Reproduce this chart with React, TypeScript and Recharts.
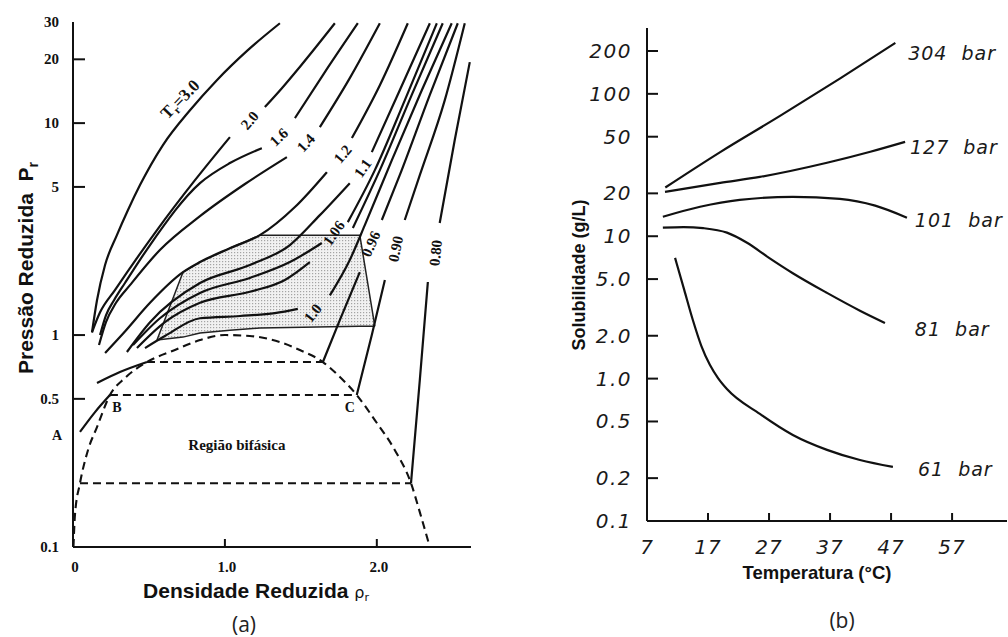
import React from "react"
import { ComposedChart, Line, Area, XAxis, YAxis, ReferenceDot } from "recharts"

type Pt = [number, number | null]

// ---------- (a) reduced pressure vs reduced density ----------
const rhoTicks = [0, 1, 2]
const rhoTickLabels = ["0", "1.0", "2.0"]
const prTicks = [0.1, 0.5, 1, 5, 10, 20, 30]
const prTickLabels = ["0.1", "0.5", "1", "5", "10", "20", "30"]

// isotherms, [rho_r, P_r]; a null marks the gap where the label sits
const isoT30: Pt[] = [[0.125, 1.03], [0.158, 1.46], [0.211, 2.14], [0.289, 2.96], [0.362, 3.89], [0.441, 5.1], [0.592, 7.88], [0.77, 11.5], [0.947, 15.95], [1.151, 22.1], [1.362, 29.6]]
const isoT20: Pt[] = [[0.125, 1.03], [0.178, 1.28], [0.276, 1.63], [0.553, 3.13], [0.803, 5.38], [1.033, 8.59], [1.15, null], [1.263, 11.9], [1.375, 14.6], [1.493, 18.4], [1.724, 29.6]]
const isoT16: Pt[] = [[0.178, 1.0], [0.217, 1.24], [0.27, 1.46], [0.342, 1.76], [0.507, 2.66], [0.836, 5.21], [1.033, 6.48], [1.243, 7.62], [1.35, null], [1.461, 10.56], [1.658, 17.4], [1.875, 29.6]]
const isoT14: Pt[] = [[0.171, 0.897], [0.217, 1.15], [0.283, 1.42], [0.375, 1.72], [0.572, 2.52], [0.836, 3.64], [1.132, 5.16], [1.408, 6.91], [1.5, null], [1.625, 9.57], [1.822, 16.3], [2.02, 29.6]]
const isoT12: Pt[] = [[0.211, 0.823], [0.342, 1.04], [0.507, 1.42], [0.724, 1.98], [0.836, 2.21], [1.033, 2.57], [1.23, 2.96], [1.461, 4.02], [1.671, 5.87], [1.75, null], [1.836, 8.5], [2.02, 15.1], [2.204, 29.6]]
const isoT11: Pt[] = [[0.355, 0.832], [0.507, 1.15], [0.836, 1.76], [1.164, 2.14], [1.428, 2.66], [1.625, 3.68], [1.822, 5.21], [1.9, null], [1.967, 7.3], [2.151, 14.3], [2.349, 29.6]]
const isoT106: Pt[] = [[0.395, 0.897], [0.572, 1.2], [0.836, 1.58], [1.164, 1.86], [1.428, 2.21], [1.638, 2.72], [1.72, null], [1.809, 3.41], [1.987, 6.0], [2.184, 12.8], [2.395, 29.6]]
const isoT103: Pt[] = [[0.421, 0.868], [0.605, 1.15], [0.836, 1.42], [1.164, 1.6], [1.395, 1.82], [1.559, 2.21], [1.7, null], [1.842, 3.2], [2.02, 6.0], [2.23, 13.6], [2.434, 29.6]]
const isoT10: Pt[] = [[0.474, 0.868], [0.605, 0.989], [0.836, 1.2], [1.099, 1.23], [1.329, 1.27], [1.48, 1.33], [1.58, null], [1.691, 1.54], [1.822, 2.26], [1.921, 3.3], [2.099, 6.69], [2.296, 14.3], [2.493, 29.6]]
const isoT096Vap: Pt[] = [[0.158, 0.594], [0.309, 0.669], [0.487, 0.746]]
const isoT096Liq: Pt[] = [[1.645, 0.746], [1.757, 1.18], [1.888, 1.98], [1.96, null], [2.033, 3.49], [2.151, 5.68], [2.349, 13.6], [2.533, 29.6]]
const isoT090Vap: Pt[] = [[0.046, 0.349], [0.145, 0.433], [0.243, 0.521]]
const isoT090Liq: Pt[] = [[1.868, 0.521], [1.967, 1.0], [2.053, 1.82], [2.12, null], [2.184, 3.49], [2.283, 5.68], [2.447, 12.8], [2.579, 29.6]]
const isoT080Liq: Pt[] = [[2.225, 0.2], [2.283, 0.613], [2.336, 1.78], [2.37, null], [2.414, 3.38], [2.513, 8.32], [2.612, 19.4]]

// coexistence dome and tie lines (dashed)
const dome: Pt[] = [[0.003, 0.1], [0.013, 0.142], [0.046, 0.2], [0.099, 0.287], [0.158, 0.368], [0.243, 0.521], [0.342, 0.627], [0.487, 0.746], [0.671, 0.85], [0.836, 0.947], [1.0, 1.0], [1.164, 0.99], [1.362, 0.927], [1.493, 0.85], [1.645, 0.746], [1.757, 0.634], [1.868, 0.521], [1.987, 0.397], [2.118, 0.287], [2.225, 0.2], [2.283, 0.146], [2.349, 0.1]]
const tie096: Pt[] = [[0.487, 0.746], [1.645, 0.746]]
const tie090: Pt[] = [[0.243, 0.521], [1.868, 0.521]]
const tie080: Pt[] = [[0.046, 0.2], [2.225, 0.2]]

// shaded supercritical region
const shadeRho = [0.553, 0.724, 0.836, 1.033, 1.23, 1.888, 1.987]
const shadeLow = [0.947, 0.978, 1.022, 1.055, 1.08, 1.1, 1.1]
const shadeHigh = [0.947, 1.98, 2.21, 2.57, 2.96, 2.96, 1.1]

const isoLabels = [
  { text: "2.0", rho: 1.164, pr: 10.3, angle: -50 },
  { text: "1.6", rho: 1.355, pr: 8.59, angle: -44 },
  { text: "1.4", rho: 1.533, pr: 8.05, angle: -47 },
  { text: "1.2", rho: 1.776, pr: 7.14, angle: -50 },
  { text: "1.1", rho: 1.908, pr: 6.13, angle: -55 },
  { text: "1.06", rho: 1.717, pr: 3.03, angle: -55 },
  { text: "1.0", rho: 1.579, pr: 1.27, angle: -52 },
  { text: "0.96", rho: 1.961, pr: 2.69, angle: -66 },
  { text: "0.90", rho: 2.125, pr: 2.55, angle: -78 },
  { text: "0.80", rho: 2.388, pr: 2.44, angle: -84 },
]

// ---------- (b) solubility vs temperature ----------
const tempTicks = [7, 17, 27, 37, 47, 57]
const solTicks = [0.1, 0.2, 0.5, 1, 2, 5, 10, 20, 50, 100, 200]
const solTickLabels = ["0.1", "0.2", "0.5", "1.0", "2.0", "5.0", "10", "20", "50", "100", "200"]

const sol304: Pt[] = [[10, 22], [19, 39], [28.8, 70], [38.6, 128], [47.7, 228]]
const sol127: Pt[] = [[9.95, 20.5], [19, 23.7], [25.5, 26.1], [36.5, 32.8], [43.6, 39.2], [49.3, 46]]
const sol101: Pt[] = [[9.6, 13.7], [15.7, 16.1], [22.2, 18], [30.9, 18.9], [38.6, 18.3], [44.4, 16.4], [49.6, 13.5]]
const sol81: Pt[] = [[9.6, 11.5], [13, 11.6], [16.2, 11.4], [20.1, 10.6], [23.4, 9.0], [27, 7.05], [30.9, 5.5], [36.5, 4.0], [41.9, 3.0], [46, 2.46]]
const sol61: Pt[] = [[11.6, 7.05], [13.1, 4.2], [14.5, 2.59], [15.9, 1.7], [17.3, 1.25], [18.7, 1.0], [20.1, 0.845], [25.5, 0.565], [30.9, 0.402], [36.5, 0.316], [41.9, 0.268], [47.3, 0.24]]

const pressureNames = ["304  bar", "127  bar", "101  bar", "81  bar", "61  bar"]
const pressureLabelAt: [number, number][] = [[49.8, 194], [50.1, 42.5], [50.9, 13], [50.9, 2.24], [51.4, 0.232]]

const ink = "#111"
const serif = "'Liberation Serif', 'DejaVu Serif', serif"
const sans = "'Liberation Sans', Arial, sans-serif"
const lettering = "'DejaVu Sans', sans-serif"

const rows = (pts: Pt[]) => pts.map(([x, y]) => ({ x, y }))

function tilted(content: React.ReactNode, angle: number, size: number, family = serif, bold = true) {
  return (props: any) => {
    const vb = props.viewBox || {}
    const x = (vb.x ?? 0) + (vb.width ?? 0) / 2
    const y = (vb.y ?? 0) + (vb.height ?? 0) / 2
    return (
      <text
        x={x}
        y={y}
        transform={`rotate(${angle} ${x} ${y})`}
        textAnchor="middle"
        dominantBaseline="central"
        fontFamily={family}
        fontSize={size}
        fontWeight={bold ? "bold" : "normal"}
        fill={ink}
      >
        {content}
      </text>
    )
  }
}

function leftText(content: string) {
  return (props: any) => {
    const vb = props.viewBox || {}
    const x = (vb.x ?? 0) + (vb.width ?? 0) / 2
    const y = (vb.y ?? 0) + (vb.height ?? 0) / 2
    return (
      <text
        x={x}
        y={y}
        dominantBaseline="central"
        fontFamily={lettering}
        fontStyle="italic"
        fontSize={19}
        letterSpacing={1}
        xmlSpace="preserve"
        style={{ whiteSpace: "pre" }}
        fill="#1a1a1a"
      >
        {content}
      </text>
    )
  }
}

const PrTick = (p: any) => {
  const i = prTicks.indexOf(p.payload.value)
  const ax = p.x + 14
  return (
    <g>
      {i > 0 && i < prTicks.length - 1 && <line x1={ax} y1={p.y} x2={ax + 12} y2={p.y} stroke={ink} strokeWidth={2} />}
      <text x={p.x} y={p.y} textAnchor="end" dominantBaseline="central" fontFamily={serif} fontWeight="bold" fontSize={15} fill={ink}>
        {prTickLabels[i]}
      </text>
    </g>
  )
}

const RhoTick = (p: any) => {
  const i = rhoTicks.indexOf(p.payload.value)
  const ay = p.y - 20
  return (
    <g>
      {i > 0 && <line x1={p.x} y1={ay} x2={p.x} y2={ay - 8} stroke={ink} strokeWidth={2} />}
      <text x={p.x + 2} y={p.y} textAnchor="middle" dominantBaseline="central" fontFamily={serif} fontWeight="bold" fontSize={15} fill={ink}>
        {rhoTickLabels[i]}
      </text>
    </g>
  )
}

const SolTick = (p: any) => {
  const i = solTicks.indexOf(p.payload.value)
  const ax = p.x + 15
  return (
    <g>
      {i > 0 && <line x1={ax} y1={p.y} x2={ax + 11} y2={p.y} stroke={ink} strokeWidth={2} />}
      <text x={p.x} y={p.y} textAnchor="end" dominantBaseline="central" fontFamily={lettering} fontStyle="italic" fontSize={20} letterSpacing={1.5} fill="#1a1a1a">
        {solTickLabels[i]}
      </text>
    </g>
  )
}

const TempTick = (p: any) => {
  const i = tempTicks.indexOf(p.payload.value)
  const ay = p.y - 26
  return (
    <g>
      {i > 0 && <line x1={p.x} y1={ay} x2={p.x} y2={ay - 8} stroke={ink} strokeWidth={2} />}
      <text x={p.x} y={p.y} textAnchor="middle" dominantBaseline="central" fontFamily={lettering} fontStyle="italic" fontSize={20} letterSpacing={1} fill="#1a1a1a">
        {String(tempTicks[i])}
      </text>
    </g>
  )
}

const solidCurves = [isoT30, isoT20, isoT16, isoT14, isoT12, isoT11, isoT106, isoT103, isoT10, isoT096Vap, isoT096Liq, isoT090Vap, isoT090Liq, isoT080Liq]
const dashedCurves = [dome, tie096, tie090, tie080]
const solCurves = [sol304, sol127, sol101, sol81, sol61]

const shadeRows = shadeRho.map((x, i) => ({ x, band: [shadeLow[i], shadeHigh[i]] }))

function DiagramA() {
  return (
    <ComposedChart width={480} height={637} margin={{ top: 22, right: 9, bottom: 60, left: 13 }}>
      <defs>
        <pattern id="stipple" width="3" height="3" patternUnits="userSpaceOnUse">
          <rect width="3" height="3" fill="#f1f1f1" />
          <rect width="1.2" height="1.2" fill="#a4a4a4" />
        </pattern>
      </defs>
      <XAxis
        type="number"
        dataKey="x"
        domain={[0, 2.62]}
        ticks={rhoTicks}
        interval={0}
        allowDataOverflow
        tickLine={false}
        tickSize={0}
        tickMargin={20}
        tick={RhoTick}
        axisLine={{ stroke: ink, strokeWidth: 2 }}
        height={30}
      />
      <YAxis
        type="number"
        scale="log"
        domain={[0.1, 30]}
        ticks={prTicks}
        interval={0}
        allowDataOverflow
        tickLine={false}
        tickSize={0}
        tickMargin={14}
        tick={PrTick}
        axisLine={{ stroke: ink, strokeWidth: 2 }}
        width={60}
      />
      <Area
        data={shadeRows}
        dataKey="band"
        type="linear"
        fill="url(#stipple)"
        fillOpacity={1}
        stroke="#222"
        strokeWidth={1.5}
        isAnimationActive={false}
        dot={false}
        activeDot={false}
      />
      {dashedCurves.map((c, i) => (
        <Line
          key={"d" + i}
          data={rows(c)}
          dataKey="y"
          type="monotone"
          stroke={ink}
          strokeWidth={2.1}
          strokeDasharray="8 5"
          dot={false}
          activeDot={false}
          isAnimationActive={false}
        />
      ))}
      {solidCurves.map((c, i) => (
        <Line
          key={"s" + i}
          data={rows(c)}
          dataKey="y"
          type="monotone"
          stroke={ink}
          strokeWidth={2.2}
          dot={false}
          activeDot={false}
          isAnimationActive={false}
        />
      ))}
      <ReferenceDot
        x={0.704}
        y={12.97}
        r={0}
        fill="none"
        stroke="none"
        label={tilted(
          <>
            T<tspan fontSize={11} dy={5}>r</tspan>
            <tspan dy={-5}>=3.0</tspan>
          </>,
          -46,
          17
        )}
      />
      {isoLabels.map((l) => (
        <ReferenceDot key={l.text} x={l.rho} y={l.pr} r={0} fill="none" stroke="none" label={tilted(l.text, l.angle, 15)} />
      ))}
      <ReferenceDot x={0.289} y={0.453} r={0} fill="none" stroke="none" label={tilted("B", 0, 14)} />
      <ReferenceDot x={1.822} y={0.457} r={0} fill="none" stroke="none" label={tilted("C", 0, 14)} />
      <ReferenceDot x={1.079} y={0.303} r={0} fill="none" stroke="none" label={tilted("Região bifásica", 0, 15)} />
    </ComposedChart>
  )
}

function DiagramB() {
  return (
    <ComposedChart width={508} height={637} margin={{ top: 28, right: 1, bottom: 86, left: 87 }}>
      <XAxis
        type="number"
        dataKey="x"
        domain={[7, 66]}
        ticks={tempTicks}
        interval={0}
        allowDataOverflow
        tickLine={false}
        tickSize={0}
        tickMargin={26}
        tick={TempTick}
        axisLine={{ stroke: ink, strokeWidth: 2 }}
        height={30}
      />
      <YAxis
        type="number"
        scale="log"
        domain={[0.1, 290]}
        ticks={solTicks}
        interval={0}
        allowDataOverflow
        tickLine={false}
        tickSize={0}
        tickMargin={15}
        tick={SolTick}
        axisLine={{ stroke: ink, strokeWidth: 2 }}
        width={60}
      />
      {solCurves.map((c, i) => (
        <Line
          key={"b" + i}
          data={rows(c)}
          dataKey="y"
          type="monotone"
          stroke={ink}
          strokeWidth={2.2}
          dot={false}
          activeDot={false}
          isAnimationActive={false}
        />
      ))}
      {pressureNames.map((name, i) => (
        <ReferenceDot
          key={name}
          x={pressureLabelAt[i][0]}
          y={pressureLabelAt[i][1]}
          r={0}
          fill="none"
          stroke="none"
          label={leftText(name)}
        />
      ))}
    </ComposedChart>
  )
}

export default function App() {
  return (
    <div style={{ position: "absolute", left: 0, top: 0, width: 1008, height: 637, background: "#fff", overflow: "hidden" }}>
      <div style={{ position: "absolute", left: 0, top: 0 }}>
        <DiagramA />
      </div>
      <div style={{ position: "absolute", left: 500, top: 0 }}>
        <DiagramB />
      </div>
      <svg width={1008} height={637} style={{ position: "absolute", left: 0, top: 0, pointerEvents: "none" }}>
        <text transform="translate(33 268) rotate(-90)" textAnchor="middle" fontFamily={sans} fontWeight="bold" fontSize={21} fill={ink} xmlSpace="preserve" style={{ whiteSpace: "pre" }}>
          Pressão Reduzida  P<tspan fontSize={14} dy={5}>r</tspan>
        </text>
        <text x={256} y={598} textAnchor="middle" fontFamily={sans} fontWeight="bold" fontSize={21} fill={ink}>
          Densidade Reduzida <tspan fontFamily={lettering} fontWeight="normal" fontSize={16}>ρ</tspan>
          <tspan fontFamily={lettering} fontWeight="normal" fontSize={11} dy={3}>r</tspan>
        </text>
        <text x={244} y={632} textAnchor="middle" fontFamily="'Open Sans', sans-serif" fontSize={21} fill="#222">
          (a)
        </text>
        <text x={57} y={440} textAnchor="middle" fontFamily={serif} fontWeight="bold" fontSize={14} fill={ink}>
          A
        </text>
        <text transform="translate(585 275) rotate(-90)" textAnchor="middle" fontFamily={sans} fontWeight="bold" fontSize={18} fill={ink}>
          Solubilidade (g/L)
        </text>
        <text x={817} y={579} textAnchor="middle" fontFamily={sans} fontWeight="bold" fontSize={18.5} fill={ink}>
          Temperatura (°C)
        </text>
        <text x={842} y={628} textAnchor="middle" fontFamily="'Open Sans', sans-serif" fontSize={21} fill="#222">
          (b)
        </text>
      </svg>
    </div>
  )
}
